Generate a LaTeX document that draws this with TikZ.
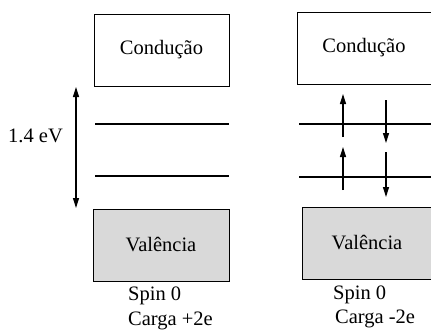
\documentclass[tikz,border=0pt]{standalone}
\usepackage{fontspec}
\setmainfont{Liberation Serif}
\usetikzlibrary{arrows.meta}
\begin{document}
\begin{tikzpicture}[x=1pt,y=-1pt,
  band/.style={draw, line width=0.9pt, inner sep=0pt, font=\fontsize{20.5}{24}\selectfont},
  lvl/.style={line width=1.1pt},
  tip/.style={Triangle[length=10pt,width=6pt]},
  spin/.style={line width=1.2pt, -{Triangle[length=10pt,width=6pt]}},
  lbl/.style={font=\fontsize{20.5}{24}\selectfont, inner sep=0pt, anchor=west}]
\useasboundingbox (0,0) rectangle (431,330);
% left
\node[band, minimum width=135pt, minimum height=72pt] (c1) at (161.5,50) {Condução};
\node[band, fill=black!15, minimum width=136pt, minimum height=72pt] (v1) at (161,245) {Valência};
\coordinate (l1a) at (95,124); \coordinate (l1b) at (229,124);
\coordinate (l2a) at (95,176); \coordinate (l2b) at (229,176);
\draw[lvl] (l1a) -- (l1b);
\draw[lvl] (l2a) -- (l2b);
\coordinate (gt) at (76,87); \coordinate (gb) at (76,208);
\draw[line width=1.2pt, {Triangle[length=10pt,width=6pt]}-{Triangle[length=10pt,width=6pt]}] (gt) -- (gb);
\node[lbl] (ev) at (8,136) {1.4 eV};
\node[lbl] (s1) at (128,296) {Spin 0};
\node[lbl] (q1) at (128,321) {Carga +2e};
% right
\node[band, minimum width=134pt, minimum height=72pt] (c2) at (364,48) {Condução};
\node[band, fill=black!15, minimum width=130pt, minimum height=72pt] (v2) at (367,243) {Valência};
\coordinate (r1a) at (299,124); \coordinate (r1b) at (432,124);
\coordinate (r2a) at (299,177); \coordinate (r2b) at (432,177);
\draw[lvl] (r1a) -- (r1b);
\draw[lvl] (r2a) -- (r2b);
\coordinate (u1s) at (343,137); \coordinate (u1e) at (343,94);
\coordinate (u2s) at (343,190); \coordinate (u2e) at (343,147);
\coordinate (d1s) at (386,100); \coordinate (d1e) at (386,143);
\coordinate (d2s) at (386,152); \coordinate (d2e) at (386,197);
\draw[spin] (u1s) -- (u1e);
\draw[spin] (u2s) -- (u2e);
\draw[spin] (d1s) -- (d1e);
\draw[spin] (d2s) -- (d2e);
\node[lbl] (s2) at (333,295) {Spin 0};
\node[lbl] (q2) at (335,319) {Carga -2e};
\end{tikzpicture}
\end{document}
